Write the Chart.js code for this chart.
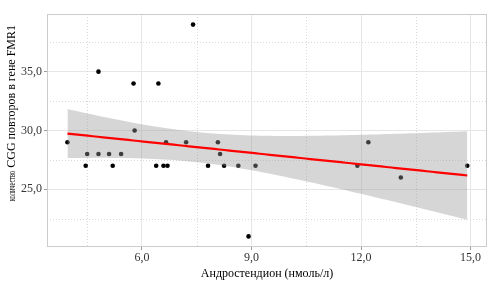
<!DOCTYPE html>
<html>
<head>
<meta charset="utf-8">
<script src="https://cdn.jsdelivr.net/npm/chart.js@4.4.1/dist/chart.umd.min.js"></script>
<style>
html,body{margin:0;padding:0;background:#fff;}
#wrap{width:492px;height:289px;position:relative;}
</style>
</head>
<body>
<div id="wrap"><canvas id="c" width="492" height="289"></canvas></div>
<script>
// Data
const androstenedione = [3.96, 4.81, 5.77, 5.80, 4.50, 4.81, 5.10, 5.43, 4.46, 5.20,
  6.45, 6.66, 7.21, 8.08, 8.14, 6.39, 6.59, 6.70, 7.81, 8.25, 8.64, 9.11,
  7.40, 8.92, 12.20, 11.90, 13.09, 14.91];
const cggRepeats = [29, 35, 34, 30, 28, 28, 28, 28, 27, 27,
  34, 29, 29, 29, 28, 27, 27, 27, 27, 27, 27, 27,
  39, 21, 29, 27, 26, 27];
const xMajorTicks = [6, 9, 12, 15];
const yMajorTicks = [25, 30, 35];
const xMinorTicks = [4.5, 7.5, 10.5, 13.5];
const yMinorTicks = [22.5, 27.5, 32.5, 37.5];
const xTitle = 'Андростендион (нмоль/л)';
const yTitle = 'количество CGG повторов в гене FMR1';

// Linear model fit with 95% confidence band (like geom_smooth(method="lm"))
const n = androstenedione.length;
const mx = androstenedione.reduce((a, b) => a + b, 0) / n;
const my = cggRepeats.reduce((a, b) => a + b, 0) / n;
let sxx = 0, sxy = 0;
for (let i = 0; i < n; i++) {
  sxx += (androstenedione[i] - mx) ** 2;
  sxy += (androstenedione[i] - mx) * (cggRepeats[i] - my);
}
const slope = sxy / sxx;
const intercept = my - slope * mx;
let sse = 0;
for (let i = 0; i < n; i++) sse += (cggRepeats[i] - (intercept + slope * androstenedione[i])) ** 2;
const sigma = Math.sqrt(sse / (n - 2));
const tCrit = 2.0555; // t(0.975, 26)
const xmin = Math.min(...androstenedione), xmax = Math.max(...androstenedione);
const fitLine = [], upper = [], lower = [];
const steps = 80;
for (let k = 0; k < steps; k++) {
  const x = xmin + (xmax - xmin) * k / (steps - 1);
  const yhat = intercept + slope * x;
  const se = sigma * Math.sqrt(1 / n + (x - mx) ** 2 / sxx);
  fitLine.push({x, y: yhat});
  upper.push({x, y: yhat + tCrit * se});
  lower.push({x, y: yhat - tCrit * se});
}
const points = androstenedione.map((x, i) => ({x, y: cggRepeats[i]}));

const fmt = v => v.toFixed(1).replace('.', ',');

const minorGrid = {
  id: 'minorGrid',
  beforeDatasetsDraw(chart) {
    const {ctx, chartArea: a, scales: {x, y}} = chart;
    ctx.save();
    ctx.strokeStyle = '#d9d9d9';
    ctx.lineWidth = 1;
    ctx.setLineDash([1, 2]);
    xMinorTicks.forEach(v => {
      const px = Math.round(x.getPixelForValue(v)) + 0.5;
      ctx.beginPath(); ctx.moveTo(px, a.top); ctx.lineTo(px, a.bottom); ctx.stroke();
    });
    yMinorTicks.forEach(v => {
      const py = Math.round(y.getPixelForValue(v)) + 0.5;
      ctx.beginPath(); ctx.moveTo(a.left, py); ctx.lineTo(a.right, py); ctx.stroke();
    });
    ctx.restore();
  }
};
const panelBorder = {
  id: 'panelBorder',
  afterDraw(chart) {
    const {ctx, chartArea: a} = chart;
    ctx.save();
    ctx.strokeStyle = '#cccccc';
    ctx.lineWidth = 1;
    ctx.strokeRect(Math.round(a.left) + 0.5, Math.round(a.top) + 0.5,
      Math.round(a.right - a.left) - 1, Math.round(a.bottom - a.top) - 1);
    ctx.restore();
  }
};
// Y-axis title: first word rendered narrow, as in the reference
const yTitleDraw = {
  id: 'yTitleDraw',
  afterDraw(chart) {
    const ctx = chart.ctx;
    const sp = yTitle.indexOf(' ');
    const first = yTitle.slice(0, sp), rest = yTitle.slice(sp + 1);
    ctx.save();
    ctx.fillStyle = '#000';
    ctx.textBaseline = 'middle';
    ctx.translate(12, 0);
    ctx.rotate(-Math.PI / 2);
    ctx.font = '12px "Liberation Serif"';
    ctx.textAlign = 'right';
    ctx.fillText(rest, -25, 0);
    const w = ctx.measureText(rest).width;
    ctx.translate(-25 - w - 3, 0.5);
    ctx.scale(0.58, 1);
    ctx.font = '11px "Liberation Serif"';
    ctx.fillText(first, 0, 0);
    ctx.restore();
  }
};

new Chart(document.getElementById('c'), {
  type: 'scatter',
  data: {
    datasets: [
      { type: 'line', data: fitLine, borderColor: '#ff0000', borderWidth: 2.2,
        pointRadius: 0, fill: false, order: 0, tension: 0 },
      { type: 'line', data: upper, borderWidth: 0, borderColor: 'rgba(0,0,0,0)',
        backgroundColor: 'rgba(153,153,153,0.4)', pointRadius: 0, fill: '+1', order: 1 },
      { type: 'line', data: lower, borderWidth: 0, borderColor: 'rgba(0,0,0,0)',
        pointRadius: 0, fill: false, order: 1 },
      { data: points, backgroundColor: '#000', borderColor: '#000', borderWidth: 0,
        pointRadius: 2.3, order: 3 }
    ]
  },
  options: {
    responsive: false,
    animation: false,
    events: [],
    layout: { padding: { left: 0, top: 14, right: 5, bottom: 0 } },
    plugins: { legend: { display: false }, tooltip: { enabled: false } },
    scales: {
      x: {
        type: 'linear', min: 3.4, max: 15.45,
        afterBuildTicks: s => { s.ticks = xMajorTicks.map(v => ({value: v})); },
        afterFit: s => { s.height = 42; },
        grid: { color: '#e6e6e6', lineWidth: 1, tickLength: 3, tickColor: '#999' },
        border: { display: false },
        ticks: { callback: v => fmt(v), color: '#333', padding: 1,
          font: { family: 'Liberation Serif', size: 12 }, maxRotation: 0 },
        title: { display: true, text: xTitle, color: '#000',
          font: { family: 'Liberation Serif', size: 12 }, padding: { top: 0, bottom: 8 } }
      },
      y: {
        type: 'linear', min: 20.1, max: 39.9,
        afterBuildTicks: s => { s.ticks = yMajorTicks.map(v => ({value: v})); },
        afterFit: s => { s.width = 47; },
        grid: { color: '#e6e6e6', lineWidth: 1, tickLength: 3, tickColor: '#999' },
        border: { display: false },
        ticks: { callback: v => fmt(v), color: '#333', padding: 2,
          font: { family: 'Liberation Serif', size: 12 } },
        title: { display: false }
      }
    }
  },
  plugins: [minorGrid, panelBorder, yTitleDraw]
});
</script>
</body>
</html>
